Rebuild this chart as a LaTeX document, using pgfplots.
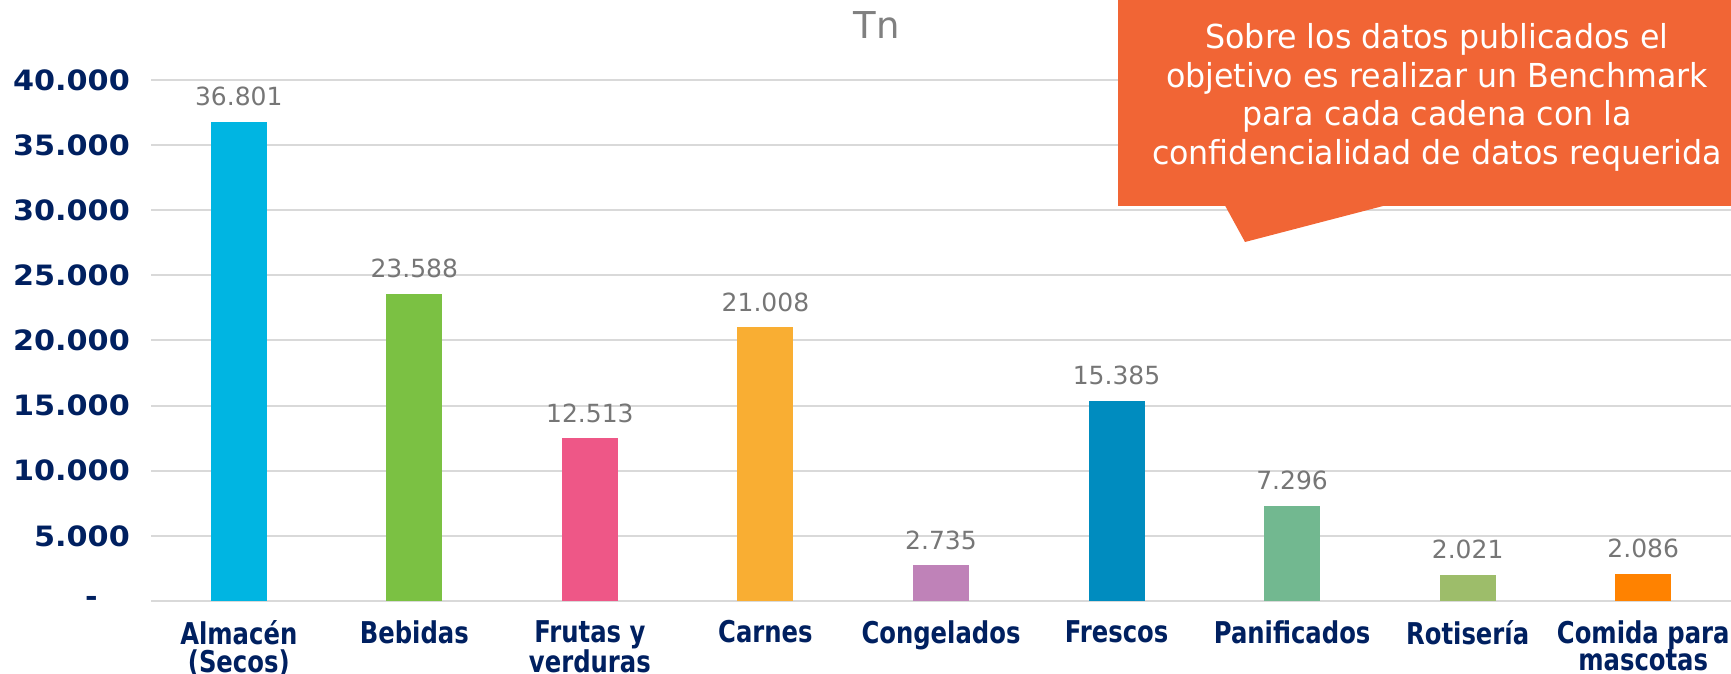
\documentclass[border=0pt]{standalone}
\usepackage{pgfplots}
\pgfplotsset{compat=1.18}
\usepackage{fontspec}
\setmainfont{DejaVu Sans}
\newfontfamily\condfont[FakeStretch=0.81]{DejaVu Sans}
\newfontfamily\widefont[FakeStretch=1.08]{DejaVu Sans}
\newfontfamily\callfont[FakeStretch=0.96]{DejaVu Sans}
\definecolor{navy}{HTML}{002060}
\definecolor{lblgray}{HTML}{767676}
\definecolor{titlegray}{HTML}{808080}
\definecolor{gridgray}{HTML}{D9D9D9}
\definecolor{callout}{HTML}{F16535}
\definecolor{c1}{HTML}{00B5E2}
\definecolor{c2}{HTML}{7BC143}
\definecolor{c3}{HTML}{EE5787}
\definecolor{c4}{HTML}{F9AE33}
\definecolor{c5}{HTML}{BF82B8}
\definecolor{c6}{HTML}{008CBF}
\definecolor{c7}{HTML}{72B890}
\definecolor{c8}{HTML}{9DBD6A}
\definecolor{c9}{HTML}{FF8200}
\begin{document}
\begin{tikzpicture}[x=1pt,y=1pt]
\path[use as bounding box] (0,0) rectangle (1731,674);
\begin{axis}[
  at={(151pt,73pt)}, anchor=south west,
  scale only axis, width=1580pt, height=521pt,
  xmin=-0.5, xmax=8.5, ymin=0, ymax=40000,
  axis line style={draw=none},
  major tick length=0pt,
  scaled y ticks=false,
  ymajorgrids, grid style={draw=gridgray, line width=2pt},
  ytick={0,5000,10000,15000,20000,25000,30000,35000,40000},
  yticklabels={{-\hspace*{32pt}},5.000,10.000,15.000,20.000,25.000,30.000,35.000,40.000},
  yticklabel style={font=\widefont\bfseries\fontsize{28}{28}\selectfont, text=navy, inner sep=0pt, anchor=east, xshift=-21pt},
  xtick={0,1,2,3,4,5,6,7,8},
  xticklabels={{Almacén\\(Secos)},Bebidas,{Frutas y\\verduras},Carnes,Congelados,Frescos,Panificados,Rotisería,{Comida para\\mascotas}},
  xticklabel style={align=center, font=\condfont\bfseries\fontsize{30}{27.5}\selectfont, text=navy, inner sep=0pt, anchor=north, yshift=-19.5pt},
  ybar, bar width=56pt, bar shift=0pt,
  point meta=explicit symbolic,
  nodes near coords,
  nodes near coords style={anchor=base, inner sep=0pt, yshift=16pt, font=\fontsize{25}{25}\selectfont, text=lblgray},
  clip=false,
]
\addplot[fill=c1, draw=none, bar shift=0pt] coordinates {(0,36801) [36.801]};
\addplot[fill=c2, draw=none, bar shift=0pt] coordinates {(1,23588) [23.588]};
\addplot[fill=c3, draw=none, bar shift=0pt] coordinates {(2,12513) [12.513]};
\addplot[fill=c4, draw=none, bar shift=0pt] coordinates {(3,21008) [21.008]};
\addplot[fill=c5, draw=none, bar shift=0pt] coordinates {(4,2735) [2.735]};
\addplot[fill=c6, draw=none, bar shift=0pt] coordinates {(5,15385) [15.385]};
\addplot[fill=c7, draw=none, bar shift=0pt] coordinates {(6,7296) [7.296]};
\addplot[fill=c8, draw=none, bar shift=0pt] coordinates {(7,2021) [2.021]};
\addplot[fill=c9, draw=none, bar shift=0pt] coordinates {(8,2086) [2.086]};
\end{axis}
\node[anchor=base, text=titlegray, font=\fontsize{37}{37}\selectfont, inner sep=0pt] at (877,635) {Tn};
\fill[callout] (1118,674) rectangle (1731,468);
\fill[callout] (1225,468.5) -- (1245,432) -- (1385,468.5) -- cycle;
\begin{scope}[every node/.style={anchor=base, text=white, font=\callfont\fontsize{33}{38.5}\selectfont, inner sep=0pt}]
\node at (1437,625) {Sobre los datos publicados el};
\node at (1437,586.5) {objetivo es realizar un Benchmark};
\node at (1437,548) {para cada cadena con la};
\node at (1437,509.5) {confidencialidad de datos requerida};
\end{scope}
\end{tikzpicture}
\end{document}
